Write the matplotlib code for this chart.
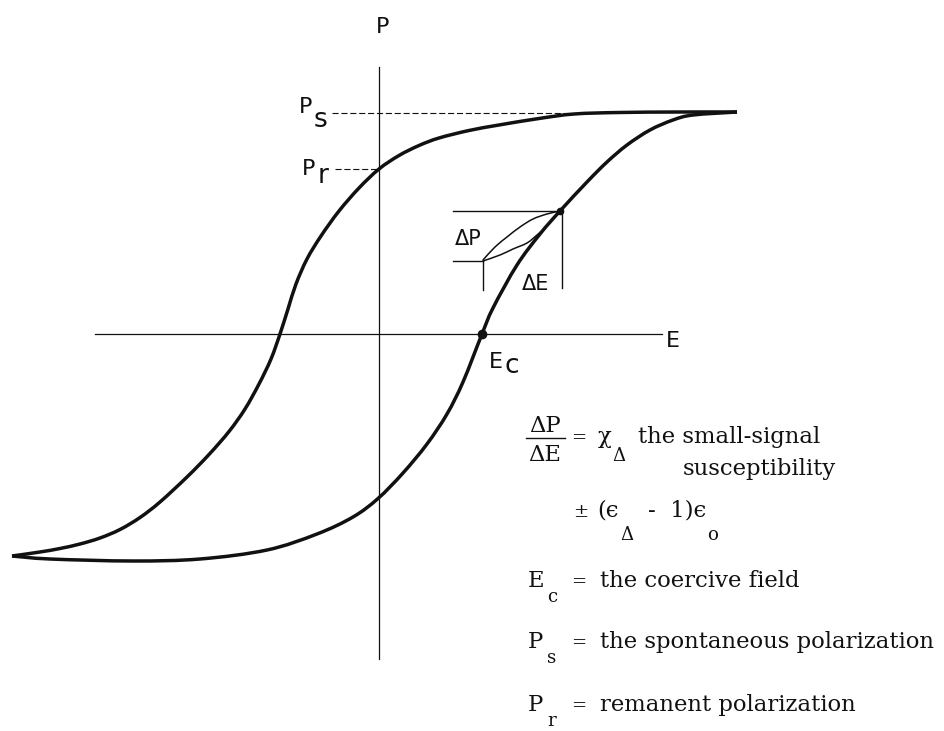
import numpy as np
import matplotlib
matplotlib.use("Agg")
import matplotlib.pyplot as plt
from matplotlib.path import Path
from matplotlib.patches import PathPatch

# ---- hysteresis loop (E, P in arbitrary units) ----
# descending branch, from +saturation to -saturation
upper_E = [3.58, 3.00, 2.40, 1.95, 1.60, 1.20, 0.90, 0.60, 0.40, 0.20, 0.00,
           -0.20, -0.40, -0.58, -0.72, -0.83, -0.91, -0.99, -1.08, -1.20,
           -1.34, -1.50, -1.70, -1.92, -2.19, -2.39, -2.59, -2.79, -2.99,
           -3.19, -3.39, -3.67]
upper_P = [2.22, 2.22, 2.215, 2.20, 2.155, 2.09, 2.035, 1.96, 1.885, 1.785, 1.65,
           1.46, 1.23, 0.98, 0.75, 0.50, 0.25, 0.00, -0.25, -0.50,
           -0.75, -0.975, -1.205, -1.43, -1.68, -1.835, -1.955, -2.04, -2.10,
           -2.145, -2.18, -2.22]

# ascending branch, from -saturation to +saturation
lower_E = [-3.67, -3.29, -2.46, -1.79, -1.12, -0.62, -0.26, -0.01, 0.24, 0.48,
           0.68, 0.84, 1.03, 1.14, 1.38, 1.61, 1.81, 2.08, 2.28, 2.48, 2.71,
           2.94, 3.14, 3.58]
lower_P = [-2.22, -2.25, -2.27, -2.25, -2.16, -2.00, -1.83, -1.645, -1.39, -1.10,
           -0.80, -0.48, 0.00, 0.26, 0.69, 1.00, 1.23, 1.52, 1.72, 1.89, 2.04,
           2.14, 2.19, 2.22]

# small-signal minor loop
minor_up_E = [1.04, 1.16, 1.28, 1.41, 1.54, 1.68, 1.81]
minor_up_P = [0.74, 0.87, 0.97, 1.07, 1.15, 1.20, 1.23]
minor_lo_E = [1.04, 1.21, 1.34, 1.48, 1.58, 1.66]
minor_lo_P = [0.73, 0.79, 0.85, 0.91, 0.99, 1.06]

Ps = 2.215     # spontaneous polarization
Pr = 1.65      # remanent polarization
Ec = 1.03      # coercive field
minor_lo = (1.04, 0.73)   # lower vertex of the minor loop
minor_hi = (1.81, 1.23)   # upper vertex of the minor loop


def smooth_path(xs, ys):
    """Cubic Bezier path through the points (Catmull-Rom tangents)."""
    pts = np.column_stack([xs, ys]).astype(float)
    ext = np.vstack([pts[0], pts, pts[-1]])
    verts = [pts[0]]
    codes = [Path.MOVETO]
    for i in range(len(pts) - 1):
        p0, p1, p2, p3 = ext[i], ext[i + 1], ext[i + 2], ext[i + 3]
        verts += [p1 + (p2 - p0) / 6.0, p2 - (p3 - p1) / 6.0, p2]
        codes += [Path.CURVE4] * 3
    return Path(verts, codes)


W, H = 944, 731
fig = plt.figure(figsize=(W / 100, H / 100), dpi=100)
ax = fig.add_axes([0, 0, 1, 1])
ax.set_xlim(-3.79, 5.65)
ax.set_ylim(-3.97, 3.34)
ax.axis("off")


def px(x, y):
    """Figure pixel position (from top-left) to data coordinates."""
    return (x - 379) / 100.0, (334 - y) / 100.0


ink = "#111111"

# coordinate axes
ax.plot([-2.84, 2.83], [0, 0], color=ink, lw=0.9)
ax.plot([0, 0], [2.67, -3.25], color=ink, lw=0.9)

# loop branches
for xs, ys in [(upper_E, upper_P), (lower_E, lower_P)]:
    ax.add_patch(PathPatch(smooth_path(xs, ys), fill=False, edgecolor=ink,
                           lw=2.5, capstyle="butt", joinstyle="round"))

# minor loop
for xs, ys in [(minor_up_E, minor_up_P), (minor_lo_E, minor_lo_P)]:
    ax.add_patch(PathPatch(smooth_path(xs, ys), fill=False, edgecolor=ink,
                           lw=1.1, capstyle="round"))

# construction lines of the minor loop
ax.plot([0.74, minor_hi[0] + 0.02], [minor_hi[1], minor_hi[1]], color=ink, lw=1.0)
ax.plot([minor_hi[0] + 0.02] * 2, [minor_hi[1], 0.46], color=ink, lw=1.0)
ax.plot([0.74, minor_lo[0]], [minor_lo[1], minor_lo[1]], color=ink, lw=1.0)
ax.plot([minor_lo[0]] * 2, [minor_lo[1], 0.44], color=ink, lw=1.0)
ax.plot([minor_hi[0]], [minor_hi[1]], "o", color=ink, ms=4.5)

# Ps and Pr leaders
ax.plot([-0.47, 1.94], [Ps, Ps], color=ink, lw=0.8, dashes=(5.5, 2.5))
ax.plot([-0.44, 0.0], [Pr, Pr], color=ink, lw=0.8, dashes=(5.5, 2.5))

# coercive field point
ax.plot([Ec], [0], "o", color=ink, ms=6)

# ---- lettering on the diagram ----
sans = dict(family="DejaVu Sans", color=ink, va="baseline", ha="left")
ax.text(*px(376, 33), "P", fontsize=16, **sans)
ax.text(*px(666, 347), "E", fontsize=16, **sans)
ax.text(*px(299, 113), "P", fontsize=16, **sans)
ax.text(*px(314, 127), "s", fontsize=19, **sans)
ax.text(*px(302, 175), "P", fontsize=16, **sans)
ax.text(*px(318, 183), "r", fontsize=19, **sans)
ax.text(*px(489, 368), "E", fontsize=16, **sans)
ax.text(*px(505, 373), "c", fontsize=19, **sans)
ax.text(*px(455, 245), "ΔP", fontsize=15, **sans)
ax.text(*px(522, 290), "ΔE", fontsize=15, **sans)

# ---- legend text ----
serif = dict(family="DejaVu Serif", color=ink, va="baseline", ha="left")

# size the legend type so the longest line spans its column
fig.canvas.draw()
renderer = fig.canvas.get_renderer()
probe = ax.text(0, 0, "the spontaneous polarization", fontsize=14, **serif)
fs = 14 * 336.0 / probe.get_window_extent(renderer).width
probe.remove()
fsub = fs * 0.8

ax.text(*px(545, 432), "ΔP", fontsize=fs, family="DejaVu Serif", color=ink,
        ha="center", va="baseline")
ax.plot([px(526, 0)[0], px(565, 0)[0]], [px(0, 438)[1]] * 2, color=ink, lw=1.0)
ax.text(*px(545, 461), "ΔE", fontsize=fs, family="DejaVu Serif", color=ink,
        ha="center", va="baseline")
ax.text(*px(571, 443), "=", fontsize=fs * 0.8, **serif)
ax.text(*px(598, 443), "χ", fontsize=fs, **serif)
ax.text(*px(612, 461), "Δ", fontsize=fsub, **serif)
ax.text(*px(638, 443), "the small-signal", fontsize=fs, **serif)
ax.text(*px(683, 475), "susceptibility", fontsize=fs, **serif)

ax.text(*px(573, 517), "±", fontsize=fs * 0.8, **serif)
ax.text(*px(597, 517), "(ϵ", fontsize=fs, **serif)
ax.text(*px(620, 540), "Δ", fontsize=fsub, **serif)
ax.text(*px(648, 517), "-  1)ϵ", fontsize=fs, **serif)
ax.text(*px(707, 540), "o", fontsize=fsub, **serif)

ax.text(*px(528, 587), "E", fontsize=fs, **serif)
ax.text(*px(547, 602), "c", fontsize=fsub, **serif)
ax.text(*px(571, 587), "=", fontsize=fs * 0.8, **serif)
ax.text(*px(600, 587), "the coercive field", fontsize=fs, **serif)

ax.text(*px(528, 648), "P", fontsize=fs, **serif)
ax.text(*px(547, 663), "s", fontsize=fsub, **serif)
ax.text(*px(571, 648), "=", fontsize=fs * 0.8, **serif)
ax.text(*px(600, 648), "the spontaneous polarization", fontsize=fs, **serif)

ax.text(*px(528, 711), "P", fontsize=fs, **serif)
ax.text(*px(547, 726), "r", fontsize=fsub, **serif)
ax.text(*px(571, 711), "=", fontsize=fs * 0.8, **serif)
ax.text(*px(600, 711), "remanent polarization", fontsize=fs, **serif)

fig.savefig("out.png", dpi=100, facecolor="white")
